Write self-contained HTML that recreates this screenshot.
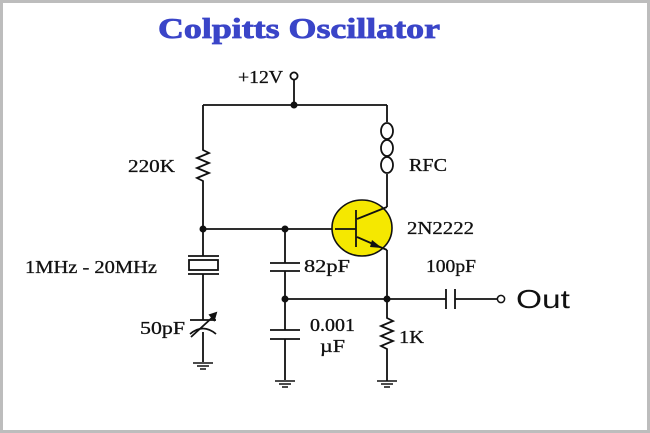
<!DOCTYPE html>
<html><head><meta charset="utf-8"><style>
html,body{margin:0;padding:0;background:#fff;}
svg{display:block;}
text{font-family:"Liberation Serif",serif;fill:#111;}
</style></head><body>
<svg width="650" height="433" viewBox="0 0 650 433">
<rect x="1.5" y="1.5" width="647" height="430" fill="#fff" stroke="#bdbdbd" stroke-width="3"/>
<text x="299" y="38" text-anchor="middle" font-size="29" font-weight="bold" textLength="282" lengthAdjust="spacingAndGlyphs" style="fill:#3a45c8;stroke:#3a45c8;stroke-width:0.8">Colpitts Oscillator</text>
<g stroke="#111" stroke-width="1.8" fill="none">
<path d="M203 105H387"/>
<path d="M294 80V105"/>
<circle cx="294" cy="76" r="3.6" fill="#fff"/>
<path d="M203 105V150 l6 3 -12 5 12 5 -12 5 12 5 -12 5 6 3 V256"/>
<path d="M188 256H219 M188 274H219"/>
<rect x="189" y="260" width="29" height="10"/>
<path d="M203 274V320 M190 320H216 M203 332V362"/>
<path d="M190 334 Q203 323 216 334"/>
<path d="M191 337 L215 315"/>
<path d="M210 315 L216 313 L214 320Z" fill="#111"/>
<path d="M203 229H355"/>
<path d="M285 229V263 M270 263H300 M270 271H300 M285 271V330"/>
<path d="M270 330H300 M270 339H300 M285 339V380"/>
<path d="M387 105V122 M387 174V207"/>
<ellipse cx="387" cy="131" rx="6" ry="8"/>
<ellipse cx="387" cy="148" rx="6" ry="8"/>
<ellipse cx="387" cy="165" rx="6" ry="8"/>
<path d="M387 250V318 l6 3 -12 5 12 5 -12 5 12 5 -12 5 6 3 V381"/>
<path d="M285 299H446 M446 289V309 M455 289V309 M455 299H497"/>
</g>
<ellipse cx="362" cy="228" rx="30" ry="28" fill="#f5e800" stroke="#111" stroke-width="1.6"/>
<g stroke="#111" stroke-width="1.8" fill="none">
<path d="M335 229H356 M356 210V247 M357 219L387 207 M357 237L387 250"/>
</g>
<path d="M382 248 L372 240 L370 247Z" fill="#111"/>
<g fill="#111">
<circle cx="294" cy="105" r="3.5"/>
<circle cx="203" cy="229" r="3.5"/>
<circle cx="285" cy="229" r="3.5"/>
<circle cx="285" cy="299" r="3.5"/>
<circle cx="387" cy="299" r="3.5"/>
</g>
<circle cx="501" cy="299" r="3.6" fill="#fff" stroke="#111" stroke-width="1.5"/>
<g stroke="#111" stroke-width="1.6">
<path d="M193 363H213 M197 366H209 M200 369H206"/>
<path d="M275 381H295 M279 384H291 M282 387H288"/>
<path d="M377 381H397 M381 384H393 M384 387H390"/>
</g>
<g font-size="18" style="stroke:#111;stroke-width:0.3">
<text x="238" y="83" textLength="45" lengthAdjust="spacingAndGlyphs">+12V</text>
<text x="128" y="172" textLength="47" lengthAdjust="spacingAndGlyphs">220K</text>
<text x="409" y="171" textLength="38" lengthAdjust="spacingAndGlyphs">RFC</text>
<text x="407" y="234" textLength="67" lengthAdjust="spacingAndGlyphs">2N2222</text>
<text x="25" y="273" textLength="132" lengthAdjust="spacingAndGlyphs">1MHz - 20MHz</text>
<text x="304" y="272" textLength="46" lengthAdjust="spacingAndGlyphs">82pF</text>
<text x="426" y="272" textLength="50" lengthAdjust="spacingAndGlyphs">100pF</text>
<text x="140" y="334" textLength="45" lengthAdjust="spacingAndGlyphs">50pF</text>
<text x="310" y="331" textLength="45" lengthAdjust="spacingAndGlyphs">0.001</text>
<text x="320" y="352" textLength="25" lengthAdjust="spacingAndGlyphs">µF</text>
<text x="399" y="343" textLength="25" lengthAdjust="spacingAndGlyphs">1K</text>
</g>
<text x="516" y="308" font-size="26" textLength="54" lengthAdjust="spacingAndGlyphs" style="font-family:'Liberation Sans',sans-serif">Out</text>
</svg>
</body></html>
